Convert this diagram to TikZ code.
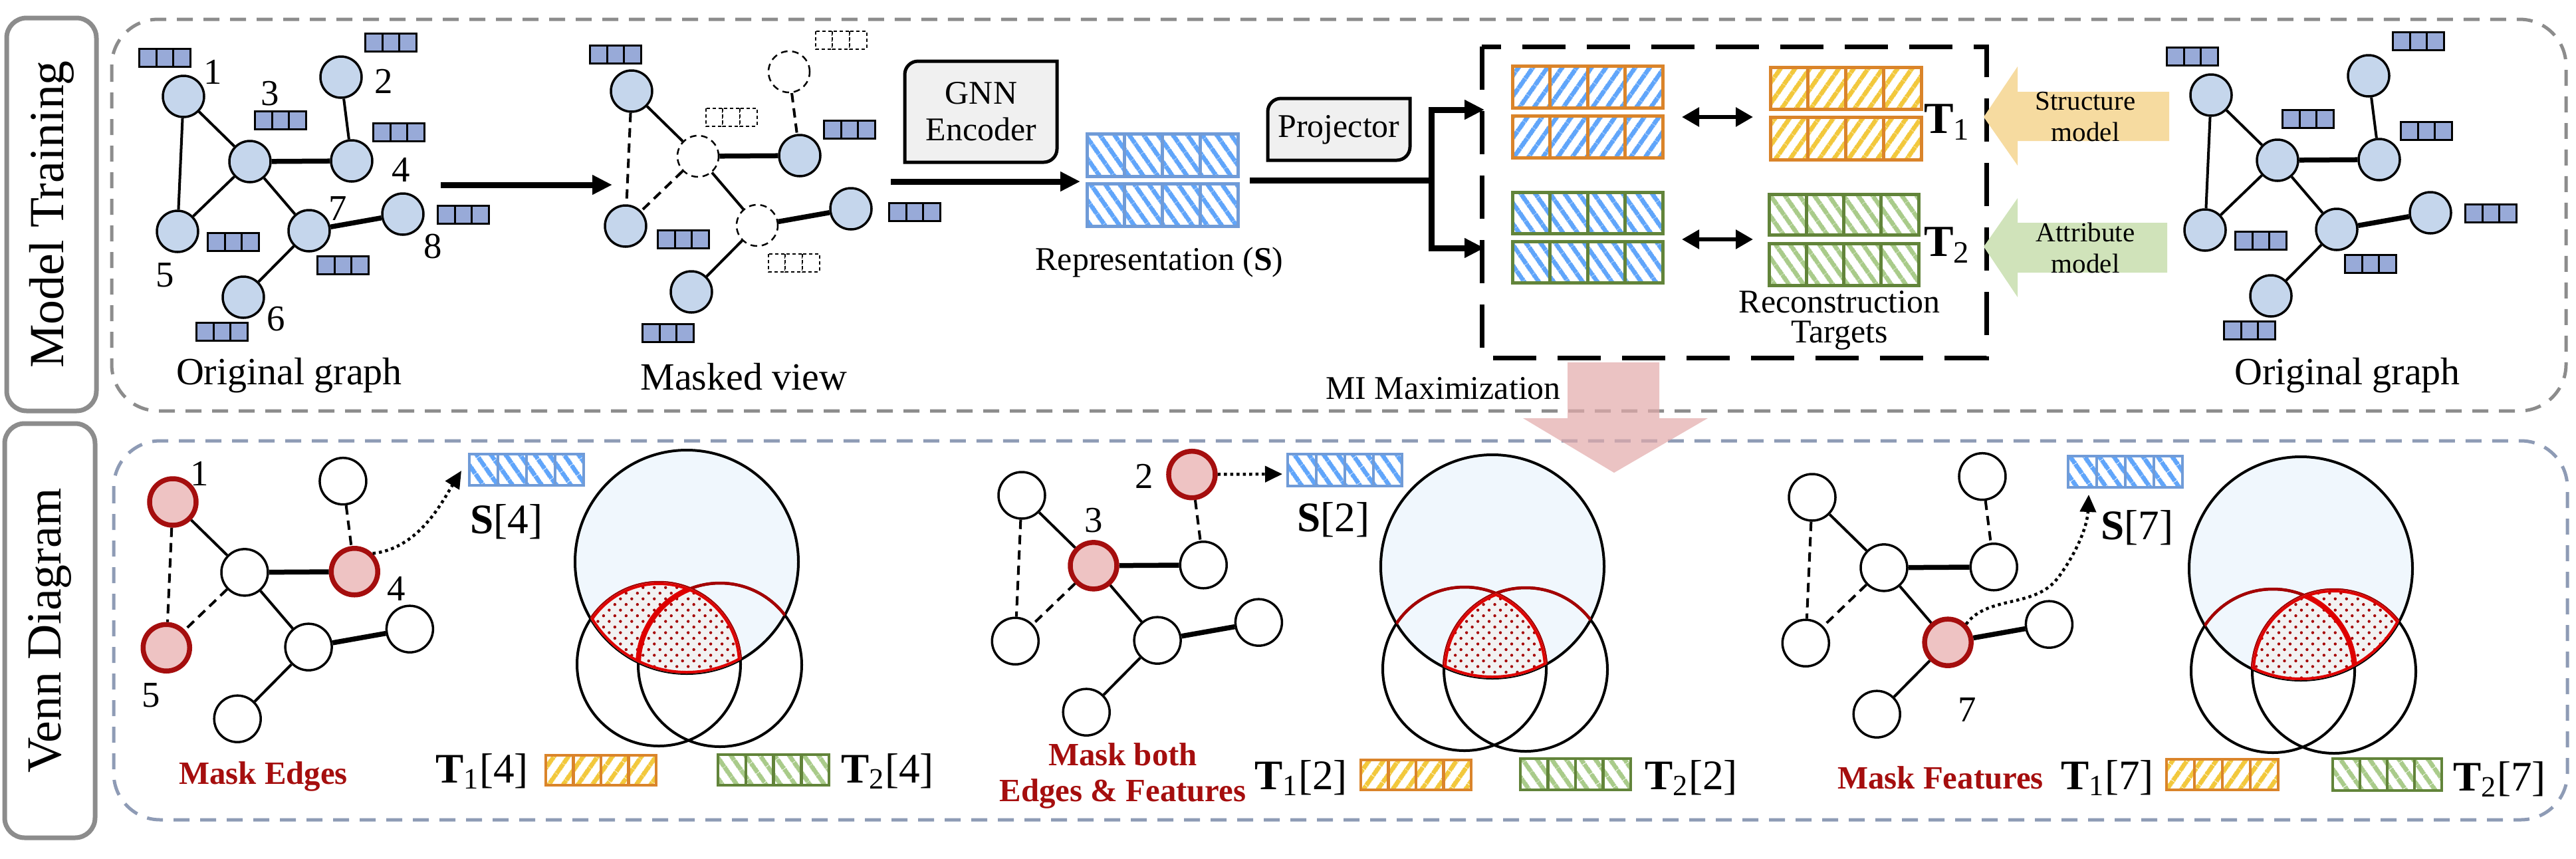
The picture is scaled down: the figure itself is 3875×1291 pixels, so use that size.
\documentclass[tikz,border=0pt]{standalone}
\usepackage{fontspec}
\setmainfont{Liberation Serif}
\usetikzlibrary{arrows.meta,patterns.meta,calc,positioning}

\definecolor{nodeblue}{RGB}{197,214,236}
\definecolor{featblue}{RGB}{152,170,216}
\definecolor{repblue}{RGB}{112,155,215}
\definecolor{stripeblue}{RGB}{96,165,250}
\definecolor{tgtorange}{RGB}{218,132,42}
\definecolor{tgtyellow}{RGB}{242,200,60}
\definecolor{tgtgreen}{RGB}{98,132,58}
\definecolor{stripegreen}{RGB}{169,203,138}
\definecolor{panelgray}{RGB}{140,140,140}
\definecolor{panelblue}{RGB}{142,155,181}
\definecolor{boxgray}{RGB}{240,240,240}
\definecolor{maskred}{RGB}{165,14,14}
\definecolor{maskpink}{RGB}{238,195,195}
\definecolor{vennblue}{RGB}{240,247,253}
\definecolor{arcred}{RGB}{165,0,0}
\definecolor{hired}{RGB}{222,0,0}
\definecolor{dotgray}{RGB}{242,242,242}
\definecolor{strucfill}{RGB}{246,219,160}
\definecolor{attrfill}{RGB}{208,227,186}
\definecolor{mipink}{RGB}{226,170,170}

% node positions of one graph, relative to node 1
\newcommand{\graphpos}{1/0/0,2/237/-29,3/100/98,4/253/97,5/-9/203,6/90/302,7/189/202,8/330/177}
\newcommand{\featpos}{-28/-58,312/-81,146/36,324/54,75/219,58/354,240/254,421/178}

\makeatletter
\newcommand{\placegraph}[4]{%
  \foreach \n/\x/\y in \graphpos {%
    \edef\gtest{\noexpand\in@{,\n,}{,#2,}}\gtest
    \ifin@\tikzset{cur/.style={#4}}\else\tikzset{cur/.style={#3}}\fi
    \node[cur] (#1\n) at (\x,\y) {};
  }}
\makeatother

\newcommand{\graphedges}[2]{%
  \draw[edge] (#11) -- (#13) (#13) -- (#17) (#17) -- (#16);
  \draw[thickedge] (#13) -- (#14) (#17) -- (#18);
  \draw[#2] (#11) -- (#15) (#13) -- (#15) (#12) -- (#14);}

\newcommand{\featbox}[3][feat]{%
  \foreach \k in {0,1,2} {\draw[#1] ({#2-38.5+25.67*\k},{#3-13.5}) rectangle ++(25.67,27);}}

\newcommand{\vecrow}[5]{%
  \foreach \k in {0,...,3} {\draw[#1] ({#2+#4*\k},#3) rectangle ++(#4,#5);}}

\newcommand{\procbox}[4]{%
  \draw[procstyle] (#1,#4) -- ($(#1,#2)+(0,-2mm)$) arc[start angle=180,end angle=90,radius=2mm]
    -- (#3,#2) -- ($(#3,#4)+(0,2mm)$) arc[start angle=0,end angle=-90,radius=2mm] -- cycle;}

% #1 centre of S, #2 region: 1 = S&T1, 2 = S&T1&T2, 3 = S&T2
\newcommand{\venn}[2]{%
  \begin{scope}[shift={#1}]
    \coordinate (vS) at (0,0);
    \coordinate (vL) at (-42,154);
    \coordinate (vR) at (50,155);
    \fill[vennblue] (vS) circle[radius=16.8mm];
    \draw[vline] (vL) circle[radius=12.3mm] (vR) circle[radius=12.3mm];
    \draw[vline] (vS) circle[radius=16.8mm];
    \begin{scope}
      \clip (vS) circle[radius=16.8mm];
      \draw[arcline] (vL) circle[radius=12.3mm] (vR) circle[radius=12.3mm];
      \ifnum#2<3 \clip (vL) circle[radius=12.3mm];\fi
      \ifnum#2>1 \clip (vR) circle[radius=12.3mm];\fi
      \fill[dotgray] (vS) circle[radius=16.8mm];
      \fill[pattern={Dots[radius=0.22mm,distance=1.2mm,angle=45]}, pattern color=arcred] (vS) circle[radius=16.8mm];
      \draw[hiline] (vS) circle[radius=16.8mm] (vL) circle[radius=12.3mm] (vR) circle[radius=12.3mm];
    \end{scope}
  \end{scope}}

\begin{document}
\begin{tikzpicture}[x=0.1mm,y=-0.1mm,
  gnode/.style={circle, draw, line width=0.35mm, fill=nodeblue, minimum size=6.2mm, inner sep=0pt},
  hidnode/.style={gnode, fill=white, line width=0.25mm, dash pattern=on 1mm off 0.7mm},
  wnode/.style={gnode, fill=white, minimum size=7mm},
  rnode/.style={wnode, draw=maskred, fill=maskpink, line width=0.75mm},
  edge/.style={line width=0.4mm},
  thickedge/.style={line width=0.75mm},
  cutedge/.style={edge, dash pattern=on 1.4mm off 0.9mm},
  feat/.style={draw, line width=0.3mm, fill=featblue},
  nofeat/.style={draw, line width=0.2mm, fill=white, dash pattern=on 0.5mm off 0.4mm},
  repcell/.style={draw=repblue, line width=0.5mm, pattern={Lines[angle=-55,distance=1.8mm,line width=0.7mm]}, pattern color=stripeblue},
  tonecell/.style={draw=tgtorange, line width=0.5mm, pattern={Lines[angle=55,distance=1.8mm,line width=0.7mm]}, pattern color=stripeblue},
  ttwocell/.style={draw=tgtgreen, line width=0.5mm, pattern={Lines[angle=-55,distance=1.8mm,line width=0.7mm]}, pattern color=stripeblue},
  ycell/.style={draw=tgtorange, line width=0.5mm, pattern={Lines[angle=55,distance=1.8mm,line width=0.7mm]}, pattern color=tgtyellow},
  gcell/.style={draw=tgtgreen, line width=0.5mm, pattern={Lines[angle=-55,distance=1.8mm,line width=0.7mm]}, pattern color=stripegreen},
  procstyle/.style={draw, line width=0.5mm, fill=boxgray},
  bigarrow/.style={line width=0.9mm, -{Triangle[length=3mm,width=2.8mm]}},
  dblarrow/.style={line width=0.6mm, {Triangle[length=2.6mm,width=2.8mm]}-{Triangle[length=2.6mm,width=2.8mm]}},
  dotarrow/.style={line width=0.45mm, dash pattern=on 0.45mm off 0.5mm, -{Triangle[length=2.6mm,width=2.4mm]}},
  vline/.style={line width=0.4mm},
  arcline/.style={draw=arcred, line width=0.45mm},
  hiline/.style={draw=hired, line width=0.8mm},
  num/.style={font=\fontsize{15.6}{16}\selectfont, inner sep=0pt},
  caption/.style={font=\fontsize{16.5}{18}\selectfont, inner sep=0pt},
  midtext/.style={font=\fontsize{14.2}{13}\selectfont, inner sep=0pt, align=center},
  smalltext/.style={font=\fontsize{11.7}{13.4}\selectfont, inner sep=0pt, align=center},
  bigtext/.style={font=\fontsize{19}{20}\selectfont, inner sep=0pt},
  idxtext/.style={font=\fontsize{18}{20}\selectfont, inner sep=0pt},
  masktext/.style={font=\bfseries\fontsize{13.9}{15.6}\selectfont, text=maskred, inner sep=0pt, align=center},
  sidelabel/.style={draw=panelgray, line width=0.7mm, rounded corners=3mm, rotate=90, font=\fontsize{21}{22}\selectfont, inner sep=0pt}]
\useasboundingbox (0,0) rectangle (3875,1291);

% panels
\draw[panelgray, line width=0.5mm, dash pattern=on 2.4mm off 1.6mm, rounded corners=7mm] (168,29) rectangle (3860,618);
\draw[panelblue, line width=0.5mm, dash pattern=on 2.4mm off 1.6mm, rounded corners=7mm] (171,663) rectangle (3862,1233);
\node[sidelabel, minimum width=59.1mm, minimum height=13.5mm] (mt) at (77.5,322.5) {Model Training};
\node[sidelabel, minimum width=62.3mm, minimum height=13.6mm] (vd) at (75,948.5) {Venn Diagram};

% original graph
\begin{scope}[shift={(276,145)}]
  \placegraph{o}{0}{gnode}{gnode}
  \graphedges{o}{edge}
  \foreach \x/\y in \featpos {\featbox{\x}{\y}}
  \foreach \n/\x/\y in {1/44/-37,2/301/-23,3/130/-4,4/327/110,5/-28/269,6/139/335,7/232/169,8/375/226}
    \node[num] (o\n-num) at (\x,\y) {\n};
\end{scope}
\node[caption] (orig-cap) at (435,565) {Original graph};

\coordinate (og-out) at (663,278);
\coordinate (mv-in) at (921,278);
\draw[bigarrow] (og-out) -- (mv-in);

% masked view
\begin{scope}[shift={(950,137)}]
  \placegraph{m}{2,3,7}{gnode}{hidnode}
  \graphedges{m}{cutedge}
  \foreach \x/\y in {-24/-55,328/58,78/223,426/182,55/364} {\featbox{\x}{\y}}
  \foreach \x/\y in {315/-77,150/39,244/258} {\featbox[nofeat]{\x}{\y}}
\end{scope}
\node[caption] (mask-cap) at (1119,567) {Masked view};

% encoder and representation
\procbox{1361}{92}{1590}{244}
\node[midtext, font=\fontsize{14.2}{15.6}\selectfont] (enc) at (1476,168) {GNN\\Encoder};
\coordinate (mv-out) at (1340,273);
\coordinate (rep-in) at (1625,273);
\draw[bigarrow] (mv-out) -- (rep-in);
\vecrow{repcell}{1635}{201}{56.75}{64}
\vecrow{repcell}{1635}{276}{56.75}{64}
\node[midtext] (rep-cap) at (1744,394) {Representation (\textbf{S})};

\procbox{1907}{148}{2121}{241}
\node[midtext] (proj) at (2014,195) {Projector};
\coordinate (rep-out) at (1880,271);
\coordinate (split) at (2153,271);
\coordinate (t1in) at (2233,165);
\coordinate (t2in) at (2233,373);
\draw[line width=0.9mm] (rep-out) -- (split);
\draw[bigarrow] (split) |- (t1in);
\draw[bigarrow] (split) |- (t2in);

% reconstruction targets
\draw[line width=0.7mm, dash pattern=on 6.5mm off 3.2mm] (2229,70) rectangle (2988,538);
\vecrow{tonecell}{2275}{99}{56.5}{63}
\vecrow{tonecell}{2275}{174}{56.5}{63}
\vecrow{ttwocell}{2275}{289}{56.5}{62}
\vecrow{ttwocell}{2275}{363}{56.5}{62}
\vecrow{ycell}{2663}{101}{56.75}{63}
\vecrow{ycell}{2663}{176}{56.75}{64}
\vecrow{gcell}{2661}{292}{56.25}{61}
\vecrow{gcell}{2661}{366}{56.25}{63}
\coordinate (d1l) at (2530,176);
\coordinate (d1r) at (2637,176);
\coordinate (d2l) at (2530,360);
\coordinate (d2r) at (2637,360);
\draw[dblarrow] (d1l) -- (d1r);
\draw[dblarrow] (d2l) -- (d2r);
\node[bigtext] (t1lbl) at (2929,184) {\textbf{T}\textsubscript{1}};
\node[bigtext] (t2lbl) at (2929,369) {\textbf{T}\textsubscript{2}};
\node[midtext] (recon) at (2767,482) {Reconstruction\\Targets};

% teacher models
\fill[strucfill] (2984,176) -- (3035,100) -- (3035,138) -- (3263,138) -- (3263,212) -- (3035,212) -- (3035,249) -- cycle;
\fill[attrfill] (2984,371) -- (3035,298) -- (3035,335) -- (3260,335) -- (3260,410) -- (3035,410) -- (3035,447) -- cycle;
\node[smalltext] (struc) at (3137,176) {Structure\\model};
\node[smalltext] (attr) at (3137,373) {Attribute\\model};

% original graph, right
\begin{scope}[shift={(3326,143)}]
  \placegraph{r}{0}{gnode}{gnode}
  \graphedges{r}{edge}
  \foreach \x/\y in \featpos {\featbox{\x}{\y}}
\end{scope}
\node[caption] (orig2-cap) at (3531,565) {Original graph};

% MI arrow
\node[midtext] (mi) at (2171,584) {MI Maximization};
\fill[mipink, fill opacity=0.7] (2358,545) -- (2496,545) -- (2496,629) -- (2569,629) -- (2428,711) -- (2291,629) -- (2358,629) -- cycle;

% venn 1: mask edges
\begin{scope}[shift={(260,755)}, scale=1.08]
  \placegraph{a}{1,4,5}{wnode}{rnode}
  \graphedges{a}{cutedge}
\end{scope}
\node[num] (a1-num) at (300,712) {1};
\node[num] (a4-num) at (596,885) {4};
\node[num] (a5-num) at (227,1046) {5};
\coordinate (sa-in) at (694,708);
\draw[dotarrow] (a4.north east) .. controls (630,825) and (665,755) .. (sa-in);
\vecrow{repcell, line width=0.45mm}{706}{683}{43}{47}
\node[idxtext] (sa-lbl) at (762,785) {\textbf{S}[4]};
\venn{(1033,845)}{1}
\node[idxtext] (ta1-lbl) at (725,1160) {\textbf{T}\textsubscript{1}[4]};
\vecrow{ycell, line width=0.45mm}{821}{1136}{41.5}{45}
\vecrow{gcell, line width=0.45mm}{1080}{1135}{41.75}{46}
\node[idxtext] (ta2-lbl) at (1335,1160) {\textbf{T}\textsubscript{2}[4]};
\node[masktext] (mask-a) at (396,1168) {Mask Edges};

% venn 2: mask both
\begin{scope}[shift={(1537,745)}, scale=1.08]
  \placegraph{b}{2,3}{wnode}{rnode}
  \graphedges{b}{cutedge}
\end{scope}
\node[num] (b2-num) at (1721,716) {2};
\node[num] (b3-num) at (1645,783) {3};
\coordinate (sb-in) at (1929,713);
\draw[dotarrow] (b2) -- (sb-in);
\vecrow{repcell, line width=0.45mm}{1937}{683}{43}{48}
\node[idxtext] (sb-lbl) at (2006,782) {\textbf{S}[2]};
\venn{(2245,852)}{2}
\node[idxtext] (tb1-lbl) at (1957,1170) {\textbf{T}\textsubscript{1}[2]};
\vecrow{ycell, line width=0.45mm}{2047}{1143}{41.5}{45}
\vecrow{gcell, line width=0.45mm}{2287}{1141}{41.5}{47}
\node[idxtext] (tb2-lbl) at (2544,1170) {\textbf{T}\textsubscript{2}[2]};
\node[masktext] (mask-b) at (1689,1167) {Mask both\\Edges \& Features};

% venn 3: mask features
\begin{scope}[shift={(2726,748)}, scale=1.08]
  \placegraph{c}{7}{wnode}{rnode}
  \graphedges{c}{cutedge}
\end{scope}
\node[num] (c7-num) at (2959,1068) {7};
\coordinate (sc-in) at (3142,744);
\draw[dotarrow] (c7.north east) .. controls (2990,895) and (3060,915) .. (3095,870) .. controls (3125,830) and (3140,790) .. (sc-in);
\vecrow{repcell, line width=0.45mm}{3111}{686}{43}{47}
\node[idxtext] (sc-lbl) at (3215,794) {\textbf{S}[7]};
\venn{(3461,855)}{3}
\node[idxtext] (tc1-lbl) at (3170,1170) {\textbf{T}\textsubscript{1}[7]};
\vecrow{ycell, line width=0.45mm}{3259}{1142}{42}{46}
\vecrow{gcell, line width=0.45mm}{3509}{1141}{41}{48}
\node[idxtext] (tc2-lbl) at (3760,1172) {\textbf{T}\textsubscript{2}[7]};
\node[masktext] (mask-c) at (2919,1170) {Mask Features};
\end{tikzpicture}
\end{document}
